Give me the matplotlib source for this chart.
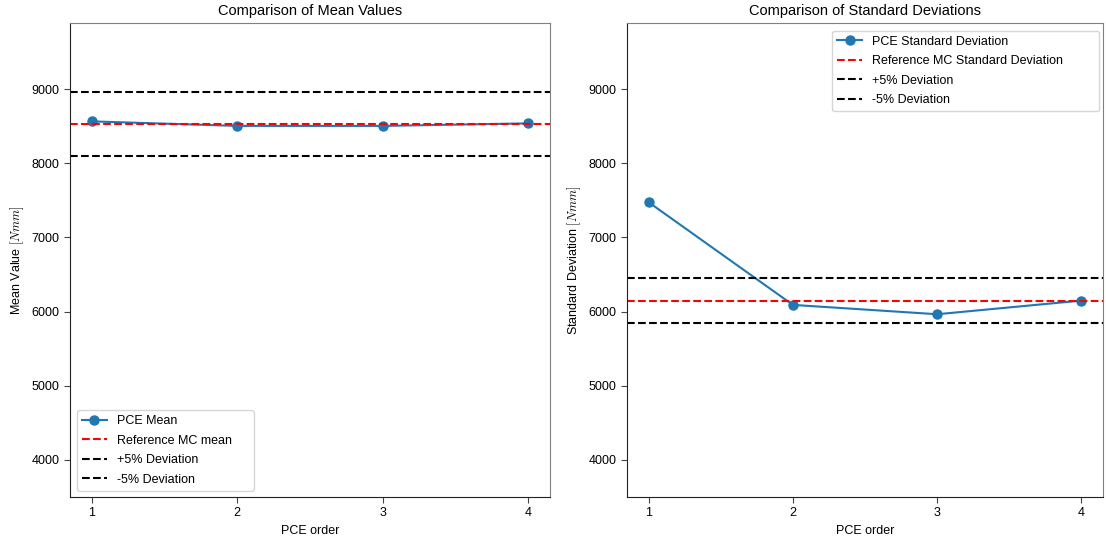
import matplotlib
matplotlib.use('Agg')
import matplotlib.pyplot as plt

plt.rcParams['font.family'] = ['Liberation Sans', 'DejaVu Sans']
plt.rcParams['mathtext.fontset'] = 'cm'

pce_orders = [1, 2, 3, 4]
pce_mean = [8564, 8503, 8503, 8537]
ref_mean = 8530
pce_std = [7474, 6090, 5964, 6148]
ref_std = 6148
y_limits = (3500, 9890)

fig = plt.figure(figsize=(11.06, 5.39), dpi=100)
ax1 = fig.add_axes([0.0633, 0.0779, 0.4340, 0.8794])
ax2 = fig.add_axes([0.5669, 0.0779, 0.4304, 0.8794])


def style_axis(ax):
    for side in ('top', 'right'):
        ax.spines[side].set_color('#808080')
    for side in ('left', 'bottom'):
        ax.spines[side].set_color('#222222')
    ax.tick_params(labelsize=9, color='#444444', length=4)


def draw_panel(ax, values, ref, line_label, ref_label, title, ylabel):
    ax.plot(pce_orders, values, marker='o', markersize=6.5, color='#1f77b4', label=line_label)
    ax.axhline(ref, color='red', linestyle='--', linewidth=1.5, label=ref_label)
    ax.axhline(ref * 1.05, color='black', linestyle='--', linewidth=1.5, label='+5% Deviation')
    ax.axhline(ref * 0.95, color='black', linestyle='--', linewidth=1.5, label='-5% Deviation')
    ax.set_title(title, fontsize=10.5, pad=6)
    ax.set_xlabel('PCE order', fontsize=9)
    ax.set_ylabel(ylabel, fontsize=9)
    ax.set_xticks(pce_orders)
    ax.set_ylim(*y_limits)
    style_axis(ax)


draw_panel(ax1, pce_mean, ref_mean, 'PCE Mean', 'Reference MC mean',
           'Comparison of Mean Values', 'Mean Value $[Nmm]$')
ax1.legend(loc='lower left', bbox_to_anchor=(0.014, 0.0133, 0.369, 0.3),
           mode='expand', borderaxespad=0, fontsize=9, labelspacing=0.6)

draw_panel(ax2, pce_std, ref_std, 'PCE Standard Deviation', 'Reference MC Standard Deviation',
           'Comparison of Standard Deviations', 'Standard Deviation $[Nmm]$')
ax2.legend(loc='upper right', bbox_to_anchor=(0.431, 0.5, 0.561, 0.484),
           mode='expand', borderaxespad=0, fontsize=9, labelspacing=0.6)

fig.savefig('out.png', dpi=100)
